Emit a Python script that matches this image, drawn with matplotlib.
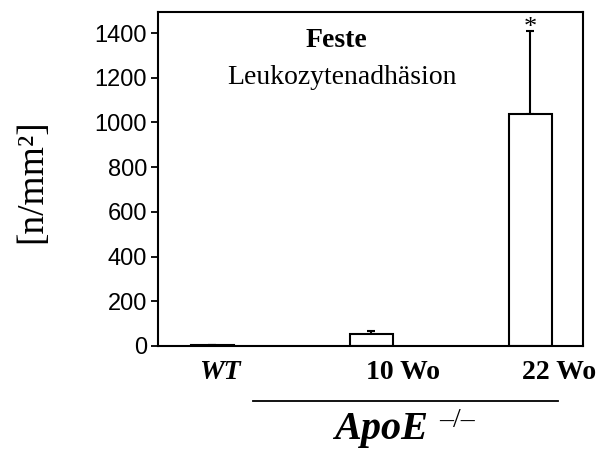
import matplotlib
matplotlib.use("Agg")
import matplotlib.pyplot as plt

categories = ["WT", "10 Wo", "22 Wo"]
values = [5, 52, 1038]
errors_up = [0, 15, 370]
yticks = [0, 200, 400, 600, 800, 1000, 1200, 1400]

fig = plt.figure(figsize=(6.02, 4.5), dpi=100)
ax = fig.add_axes([158/602, 1-346/450, (583-158)/602, (346-12)/450])

x = list(range(len(categories)))
ax.bar(x, values, width=0.27, color="white", edgecolor="black", linewidth=1.5, zorder=2)
ax.errorbar(x, values, yerr=[[0]*3, errors_up], fmt="none", ecolor="black",
            elinewidth=1.5, capsize=3, capthick=1.5, zorder=1)
ax.text(x[2], values[2] + errors_up[2] + 15, "*", ha="center", va="center",
        fontsize=19, family="Liberation Serif")

ax.set_xlim(-0.34, 2.333)
ax.set_ylim(0, 1494)
ax.set_yticks(yticks)
ax.set_yticklabels([str(t) for t in yticks], family="Liberation Sans", fontsize=17)
ax.tick_params(axis="y", direction="out", length=5, width=1.3, pad=3)
ax.set_xticks([])
for s in ax.spines.values():
    s.set_linewidth(1.5)

offsets = [0.05, 0.2, 0.18]
for xi, lab, off in zip(x, categories, offsets):
    kw = dict(family="Liberation Serif", fontweight="bold", fontsize=20, ha="center", va="center")
    if lab == "WT":
        kw["style"] = "italic"
    ax.text(xi + off, -0.08, lab, transform=ax.get_xaxis_transform(), **kw)

fig.text(32/602, 1-181/450, "[n/mm²]", rotation=90, ha="center", va="center",
         family="Liberation Serif", fontsize=27)

fig.text(336/602, 1-47/450, "Feste", ha="center", va="baseline",
         family="Liberation Serif", fontweight="bold", fontsize=20)
fig.text(342/602, 1-84/450, "Leukozytenadhäsion", ha="center", va="baseline",
         family="Liberation Serif", fontsize=20)

fig.add_artist(plt.Line2D([253/602, 558/602], [1-401/450, 1-401/450], color="black",
                          linewidth=1.3, transform=fig.transFigure))
fig.text(334/602, 1-439/450, "ApoE", ha="left", va="baseline",
         family="Liberation Serif", fontweight="bold", style="italic", fontsize=29)
fig.text(439/602, 1-427/450, "\u2013/\u2013", ha="left", va="baseline",
         family="Liberation Serif", fontsize=20)

fig.savefig("out.png", dpi=100, facecolor="white")
